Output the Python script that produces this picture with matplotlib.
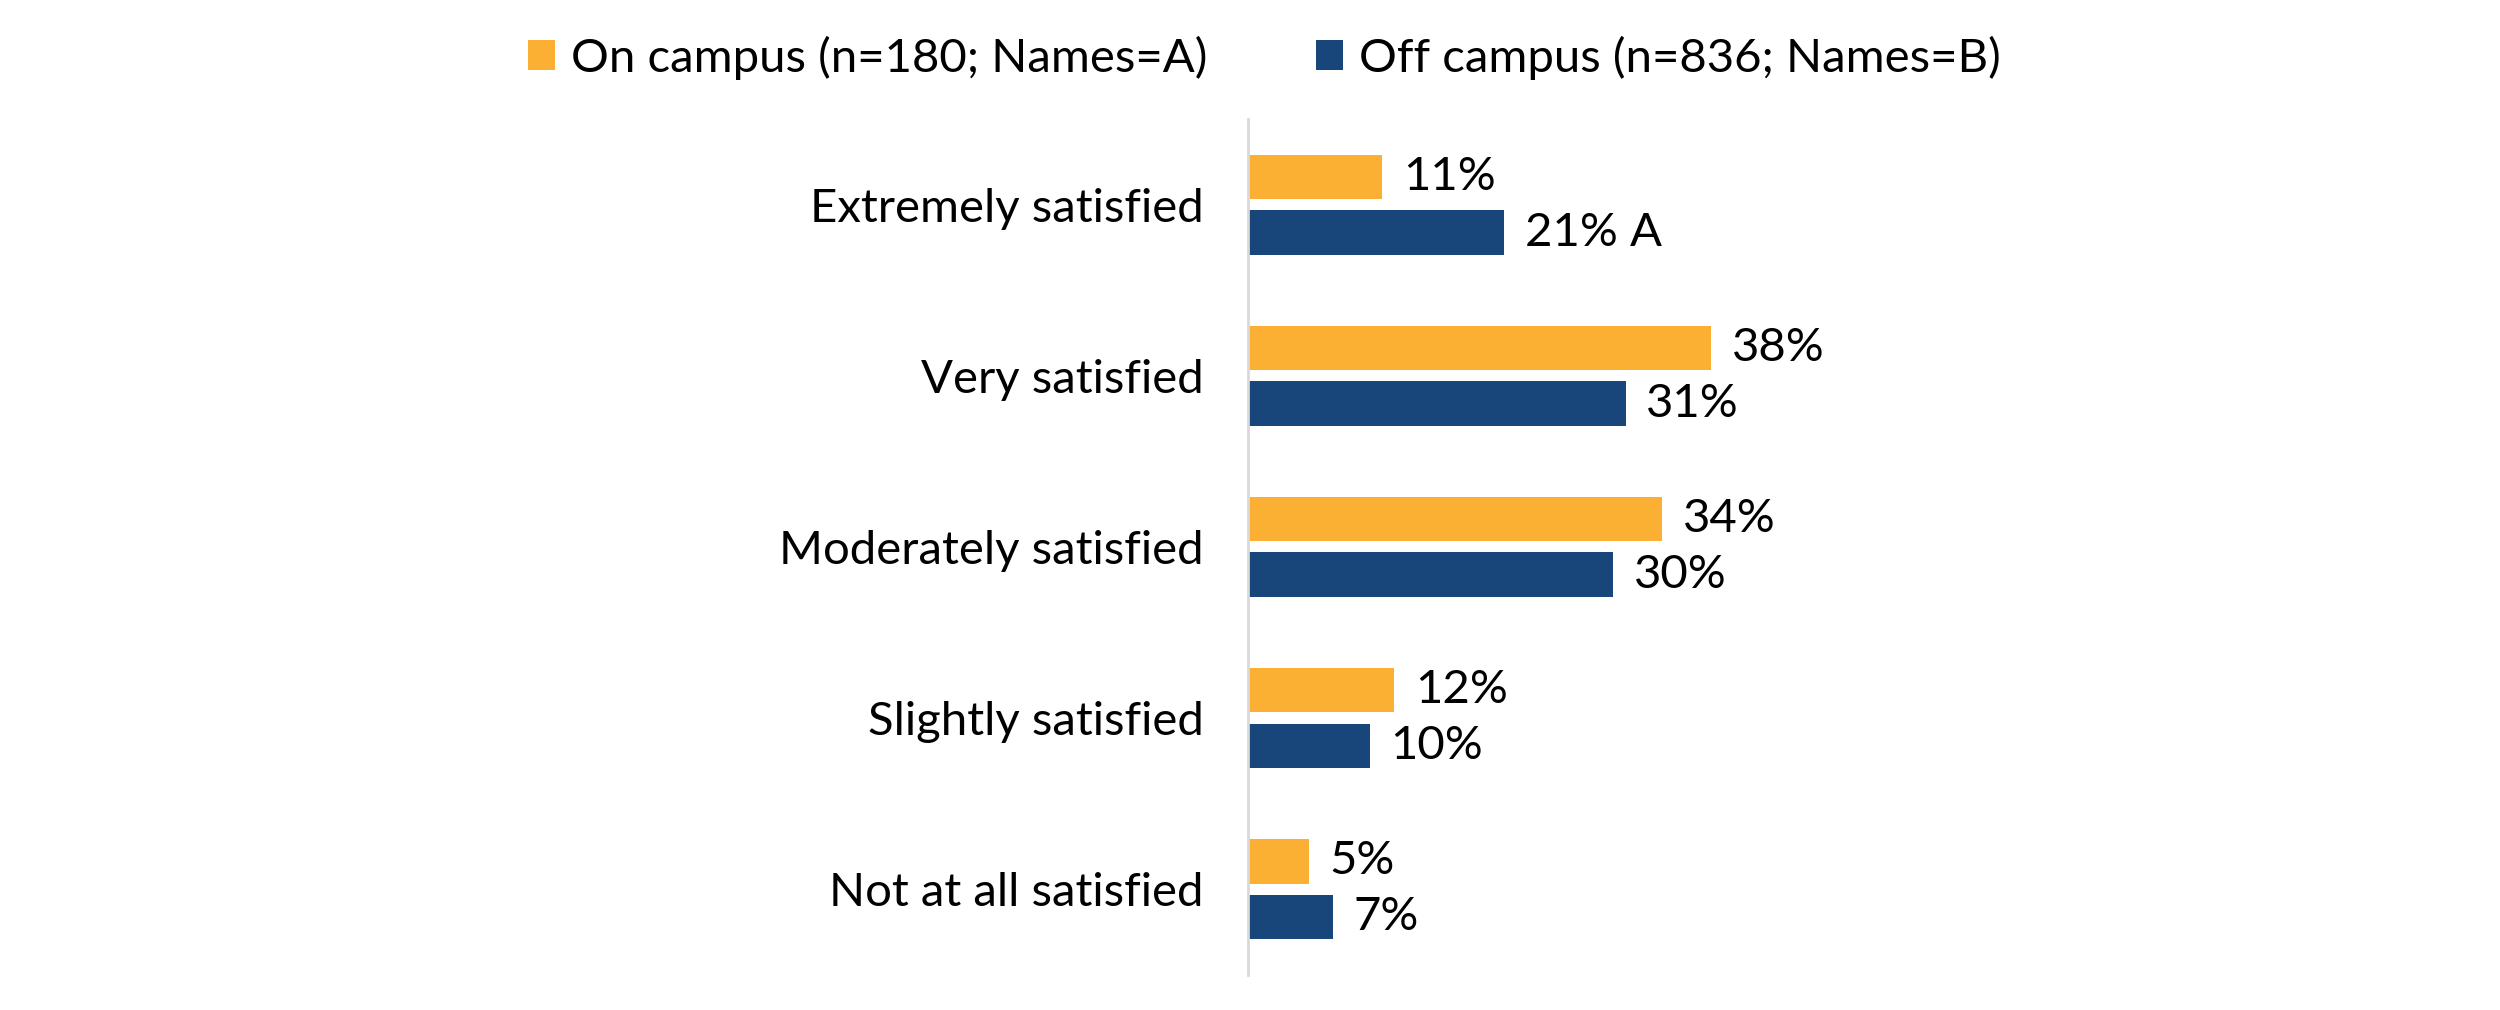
import matplotlib.pyplot as plt
import numpy as np
from matplotlib.patches import Patch

plt.rcParams['font.family'] = ['Lato', 'DejaVu Sans']

categories = ["Extremely satisfied", "Very satisfied", "Moderately satisfied",
              "Slightly satisfied", "Not at all satisfied"]
on_campus = [11, 38, 34, 12, 5]
off_campus = [21, 31, 30, 10, 7]
on_labels = ["11%", "38%", "34%", "12%", "5%"]
off_labels = ["21% A", "31%", "30%", "10%", "7%"]
series_names = ["On campus (n=180; Names=A)", "Off campus (n=836; Names=B)"]

ORANGE = "#FBB034"
NAVY = "#18457A"
FS = 34

fig = plt.figure(figsize=(25, 10.1), dpi=100, facecolor="white")
ax = fig.add_axes([0.4992, 0.035, 0.48, 0.847])

y = np.arange(len(categories))
h = 0.26
off = 0.1625
ax.barh(y - off, on_campus, height=h, color=ORANGE)
ax.barh(y + off, off_campus, height=h, color=NAVY)

for yi, v, t in zip(y, on_campus, on_labels):
    ax.text(v + 1.7, yi - off, t, va="center", ha="left", fontsize=FS, color="black")
for yi, v, t in zip(y, off_campus, off_labels):
    ax.text(v + 1.7, yi + off, t, va="center", ha="left", fontsize=FS, color="black")

ax.set_xlim(0, 98.5)
ax.set_ylim(len(categories) - 0.5, -0.5)
ax.set_yticks(y)
ax.set_yticklabels(categories, fontsize=FS)
ax.tick_params(axis="y", length=0, pad=32)
ax.set_xticks([])
for s in ["top", "right", "bottom"]:
    ax.spines[s].set_visible(False)
ax.spines["left"].set_color("#D9D9D9")
ax.spines["left"].set_linewidth(2)

handles = [Patch(facecolor=ORANGE), Patch(facecolor=NAVY)]
fig.legend(handles, series_names, loc="center", bbox_to_anchor=(0.5056, 0.943),
           ncol=2, frameon=False, fontsize=FS, handlelength=0.57, handleheight=0.57,
           handletextpad=0.34, columnspacing=2.3, borderpad=0)

fig.savefig("out.png", dpi=100, facecolor="white")
